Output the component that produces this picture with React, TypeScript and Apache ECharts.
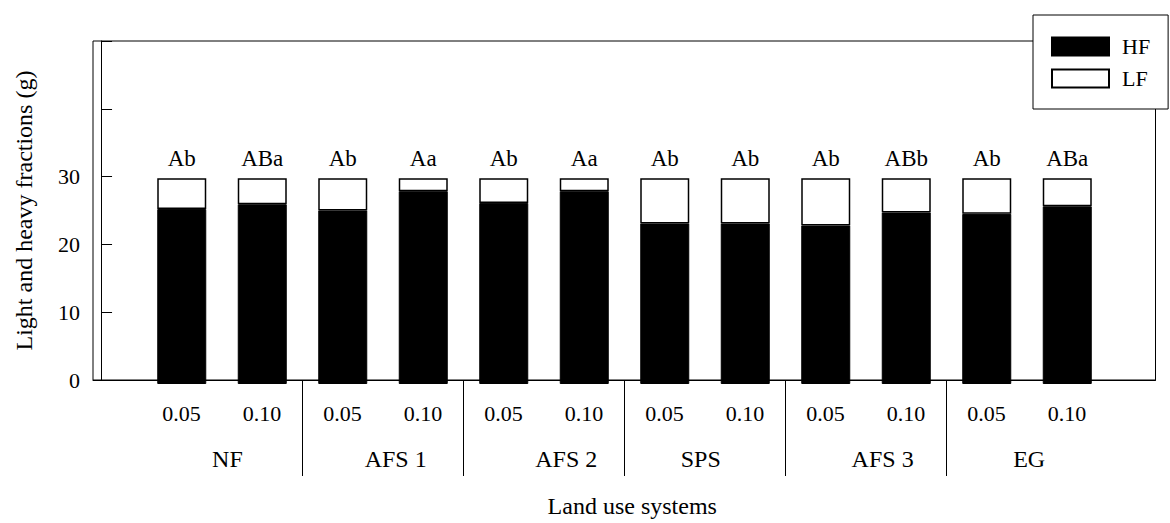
import React, { useEffect, useRef } from "react";
import * as echarts from "echarts";

// ---- data ----
const barPositions = [1, 2, 3, 4, 5, 6, 7, 8, 9, 10, 11, 12];
const barCategories = ["NF 0.05", "NF 0.10", "AFS 1 0.05", "AFS 1 0.10", "AFS 2 0.05", "AFS 2 0.10", "SPS 0.05", "SPS 0.10", "AFS 3 0.05", "AFS 3 0.10", "EG 0.05", "EG 0.10"];
const doseLabels = ["0.05", "0.10", "0.05", "0.10", "0.05", "0.10", "0.05", "0.10", "0.05", "0.10", "0.05", "0.10"];
const groupNames = ["NF", "AFS 1", "AFS 2", "SPS", "AFS 3", "EG"];
const groupLabelPositions = [1.57, 3.66, 5.78, 7.45, 9.71, 11.53];
const groupSeparators = [2.5, 4.5, 6.5, 8.5, 10.5];
const hfValues = [25.5, 26.2, 25.3, 28.1, 26.4, 28.1, 23.4, 23.4, 23.1, 25.0, 24.8, 25.9];
const lfValues = [4.5, 3.8, 4.7, 1.9, 3.6, 1.9, 6.6, 6.6, 6.9, 5.0, 5.2, 4.1];
const letters = ["Ab", "ABa", "Ab", "Aa", "Ab", "Aa", "Ab", "Ab", "Ab", "ABb", "Ab", "ABa"];
const yTickLabels = [0, 10, 20, 30];

const FONT = "Liberation Serif";
const FS = 22;
const FS_BIG = 24;

export default function App() {
  const ref = useRef<HTMLDivElement>(null);

  useEffect(() => {
    if (!ref.current) return;
    const chart = echarts.init(ref.current, null, { renderer: "svg" });
    const xMin = -0.1;
    const xMax = 13.1;

    const option: any = {
      animation: false,
      backgroundColor: "#fff",
      textStyle: { fontFamily: FONT, color: "#000" },
      grid: [
        {
          left: 93,
          right: 14.5,
          top: 41,
          bottom: 139,
          show: true,
          borderColor: "#000",
          borderWidth: 1,
          backgroundColor: "transparent",
        },
        {
          left: 141.5,
          right: 62.5,
          top: 41,
          bottom: 139,
          show: false,
        },
      ],
      legend: {
        data: ["HF", "LF"],
        orient: "vertical",
        left: 1033,
        top: 15,
        itemWidth: 57,
        itemHeight: 18,
        itemGap: 10,
        padding: [20.5, 18, 19.5, 18],
        borderColor: "#000",
        borderWidth: 1,
        backgroundColor: "#fff",
        icon: "rect",
        textStyle: { fontFamily: FONT, fontSize: FS, color: "#000", padding: [0, 0, 0, 8] },
        z: 10,
      },
      xAxis: [
        {
          type: "value",
          gridIndex: 0,
          min: xMin,
          max: xMax,
          position: "bottom",
          axisLine: { show: true, lineStyle: { color: "#000", width: 1 } },
          axisTick: {
            show: true,
            inside: false,
            length: 96,
            customValues: groupSeparators,
            lineStyle: { color: "#000", width: 1 },
          },
          axisLabel: {
            show: true,
            customValues: barPositions,
            formatter: (v: number) => doseLabels[Math.round(v) - 1] ?? "",
            margin: 22,
            fontFamily: FONT,
            fontSize: FS,
            color: "#000",
          },
          splitLine: { show: false },
        },
        {
          type: "value",
          gridIndex: 0,
          min: xMin,
          max: xMax,
          position: "bottom",
          axisLine: { show: false },
          axisTick: { show: false },
          axisLabel: {
            show: true,
            customValues: groupLabelPositions,
            formatter: (v: number) => {
              const i = groupLabelPositions.findIndex((p) => Math.abs(p - v) < 1e-6);
              return i >= 0 ? groupNames[i] : "";
            },
            margin: 67,
            fontFamily: FONT,
            fontSize: FS_BIG,
            color: "#000",
          },
          splitLine: { show: false },
          name: "Land use systems",
          nameLocation: "middle",
          nameGap: 114,
          nameTextStyle: { fontFamily: FONT, fontSize: FS_BIG, color: "#000", padding: [0, 0, 0, 16] },
        },
        {
          type: "category",
          gridIndex: 1,
          data: barCategories,
          show: false,
        },
      ],
      yAxis: [
        {
          type: "value",
          gridIndex: 0,
          min: 0,
          max: 50,
          interval: 10,
          name: "Light and heavy fractions (g)",
          nameLocation: "middle",
          nameRotate: 90,
          nameGap: 57,
          nameTextStyle: { fontFamily: FONT, fontSize: FS_BIG, color: "#000" },
          axisLine: { show: true, lineStyle: { color: "#000", width: 1 } },
          axisTick: { show: true, inside: true, length: 11, lineStyle: { color: "#000", width: 1 } },
          axisLabel: {
            margin: 13,
            fontFamily: FONT,
            fontSize: FS,
            color: "#000",
            formatter: (v: number) => (yTickLabels.includes(v) ? String(v) : ""),
          },
          splitLine: { show: false },
        },
        {
          type: "value",
          gridIndex: 1,
          min: 0,
          max: 50,
          interval: 10,
          show: false,
          splitLine: { show: false },
        },
      ],
      series: [
        {
          name: "HF",
          type: "bar",
          xAxisIndex: 2,
          yAxisIndex: 1,
          stack: "total",
          barWidth: 49,
          data: hfValues,
          itemStyle: { color: "#000", borderColor: "#000", borderWidth: 1 },
        },
        {
          name: "LF",
          type: "bar",
          xAxisIndex: 2,
          yAxisIndex: 1,
          stack: "total",
          barWidth: 49,
          data: lfValues,
          itemStyle: { color: "#fff", borderColor: "#000", borderWidth: 1.5 },
          label: {
            show: true,
            position: "top",
            distance: 8,
            formatter: (p: any) => letters[p.dataIndex],
            fontFamily: FONT,
            fontSize: 23,
            color: "#000",
          },
        },
      ],
    };

    chart.setOption(option);
    return () => chart.dispose();
  }, []);

  return (
    <div
      ref={ref}
      style={{ position: "fixed", left: 0, top: 0, width: 1170, height: 523, background: "#fff" }}
    />
  );
}
